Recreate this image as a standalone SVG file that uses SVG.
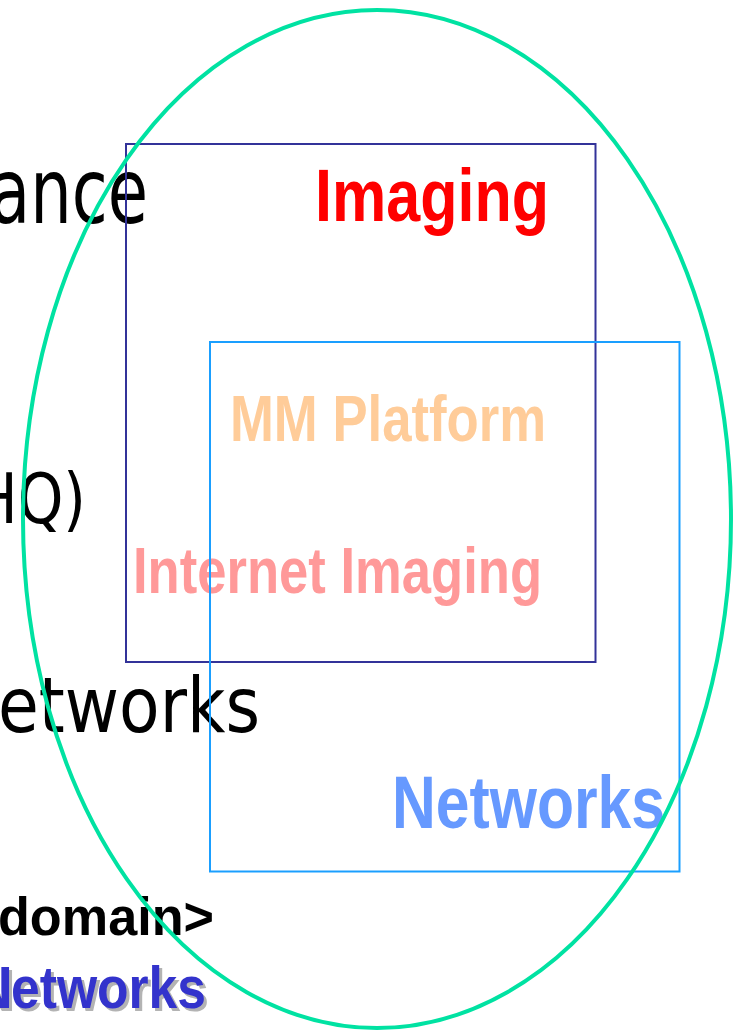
<svg xmlns="http://www.w3.org/2000/svg" width="736" height="1032" viewBox="0 0 736 1032">
<style>
.body{font-family:"DejaVu Sans","Verdana",sans-serif;fill:#000}
.nb{font-family:"Liberation Sans Narrow","Liberation Sans","Arial",sans-serif;font-weight:bold}
.b{font-family:"Liberation Sans","Arial",sans-serif;font-weight:bold;fill:#000}
.sh{fill:#b3b3b3}
.dk{fill:#3333cc}
</style>
<rect width="736" height="1032" fill="#fff"/>
<g id="left-text">
<g transform="translate(0,223) scale(1,1.2)"><text class="body" x="148" y="0" font-size="76" text-anchor="end" textLength="158" lengthAdjust="spacingAndGlyphs">ance</text></g>
<g transform="translate(0,523) scale(1,1.12)"><text class="body" x="86" y="0" font-size="62" text-anchor="end" textLength="112" lengthAdjust="spacingAndGlyphs">HQ)</text></g>
<text class="body" x="-2" y="732" font-size="76" textLength="262" lengthAdjust="spacingAndGlyphs">etworks</text>
<text class="b" x="-2" y="935" font-size="54" textLength="216" lengthAdjust="spacingAndGlyphs">domain&gt;</text>
<g id="networks-shadow">
<text class="nb sh" x="16" y="1011" font-size="60" text-anchor="end">N</text>
<text class="nb sh" x="14" y="1011" font-size="60" textLength="195" lengthAdjust="spacingAndGlyphs">etworks</text>
</g>
<g id="networks-dark">
<text class="nb dk" x="13" y="1008" font-size="60" text-anchor="end">N</text>
<text class="nb dk" x="11" y="1008" font-size="60" textLength="195" lengthAdjust="spacingAndGlyphs">etworks</text>
</g>
</g>
<g id="imaging">
<text class="nb" x="315" y="221" font-size="75" fill="#ff0000" textLength="234" lengthAdjust="spacingAndGlyphs">Imaging</text>
</g>
<g id="mm-platform">
<text class="nb" x="230" y="441" font-size="64" fill="#ffcc99" textLength="316" lengthAdjust="spacingAndGlyphs">MM Platform</text>
</g>
<g id="internet-imaging">
<text class="nb" x="133" y="593" font-size="64" fill="#ff9999" textLength="409" lengthAdjust="spacingAndGlyphs">Internet Imaging</text>
</g>
<g id="networks">
<text class="nb" x="392" y="828" font-size="75" fill="#6699ff" textLength="273" lengthAdjust="spacingAndGlyphs">Networks</text>
</g>
<g id="imaging-box"><rect x="126" y="144" width="469.5" height="518" fill="none" stroke="#333399" stroke-width="2"/></g>
<g id="networks-box"><rect x="210" y="342" width="469.5" height="529.5" fill="none" stroke="#1a9fff" stroke-width="2"/></g>
<g id="domain-ellipse"><ellipse cx="377" cy="519" rx="354" ry="509" fill="none" stroke="#00e2a2" stroke-width="4"/></g>
<g id="connectors"/>
</svg>
